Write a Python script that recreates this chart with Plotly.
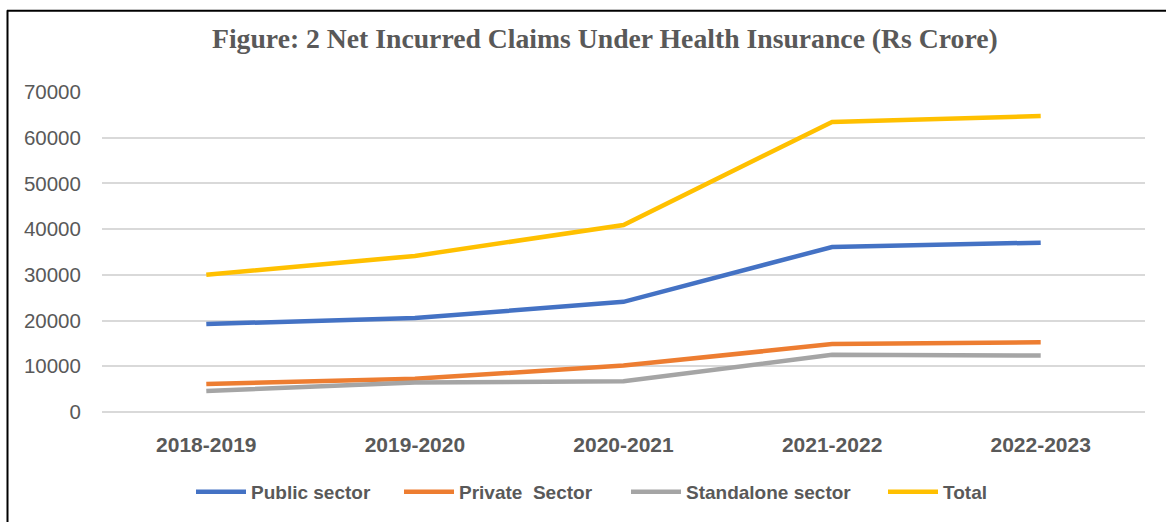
import plotly.graph_objects as go

years = ["2018-2019", "2019-2020", "2020-2021", "2021-2022", "2022-2023"]
public_sector = [19250, 20550, 24100, 36100, 37050]
private_sector = [6150, 7250, 10150, 14850, 15250]
standalone_sector = [4600, 6450, 6750, 12500, 12350]
total = [30000, 34150, 40900, 63450, 64750]

series_names = ["Public sector", "Private  Sector", "Standalone sector", "Total"]
series_values = [public_sector, private_sector, standalone_sector, total]
colors = ["#4472C4", "#ED7D31", "#A5A5A5", "#FFC000"]

W, H = 1166, 522
L, R, T, B = 102, 21, 92, 109
pw, ph = W - L - R, H - T - B


def px(x):
    return (x - L) / pw


def py(y):
    return (H - B - y) / ph


legend_ids = ["legend", "legend2", "legend3", "legend4"]
legend_line_starts = [197, 405, 632, 889]

fig = go.Figure()
for name, vals, col, lid in zip(series_names, series_values, colors, legend_ids):
    fig.add_trace(go.Scatter(x=years, y=vals, mode="lines", name=name, legend=lid,
                             line=dict(color=col, width=4.5)))

legend_font = dict(family="Liberation Sans", size=19, color="#595959", weight="bold")
legends = {}
for lid, xs in zip(legend_ids, legend_line_starts):
    legends[lid] = dict(orientation="h", xref="paper", x=px(xs - 6), xanchor="left",
                        yref="paper", y=py(492), yanchor="middle", itemwidth=50,
                        font=legend_font, bgcolor="rgba(0,0,0,0)", borderwidth=0)

fig.update_layout(
    width=W, height=H,
    margin=dict(l=L, r=R, t=T, b=B),
    paper_bgcolor="white", plot_bgcolor="white",
    xaxis=dict(showgrid=False, showline=False, ticks="outside", ticklen=14,
               range=[-0.5, 4.5],
               tickcolor="rgba(0,0,0,0)",
               tickfont=dict(family="Liberation Sans", size=21, color="#595959", weight="bold")),
    yaxis=dict(range=[0, 70000], dtick=10000, showgrid=True, gridcolor="#D9D9D9",
               gridwidth=1.5, zeroline=True, zerolinecolor="#D9D9D9", zerolinewidth=1.5,
               ticks="outside", ticklen=16, tickcolor="rgba(0,0,0,0)",
               tickformat="d",
               tickfont=dict(family="Liberation Sans", size=20.5, color="#595959")),
    showlegend=True,
    annotations=[
        dict(text="<b>Figure: 2 Net Incurred Claims Under Health Insurance (Rs Crore)</b>",
             font=dict(family="Liberation Serif", size=27.7, color="#595959"),
             xref="paper", x=px(605), xanchor="center",
             yref="paper", y=py(38), yanchor="middle", showarrow=False),
    ],
    shapes=[
        dict(type="line", xref="paper", yref="paper", x0=px(7), x1=px(1175),
             y0=py(10.5), y1=py(10.5), line=dict(color="black", width=2)),
        dict(type="line", xref="paper", yref="paper", x0=px(7.5), x1=px(7.5),
             y0=py(10), y1=py(530), line=dict(color="black", width=2)),
    ],
    **legends,
)

fig.write_html("out.html", config={"displayModeBar": False})
